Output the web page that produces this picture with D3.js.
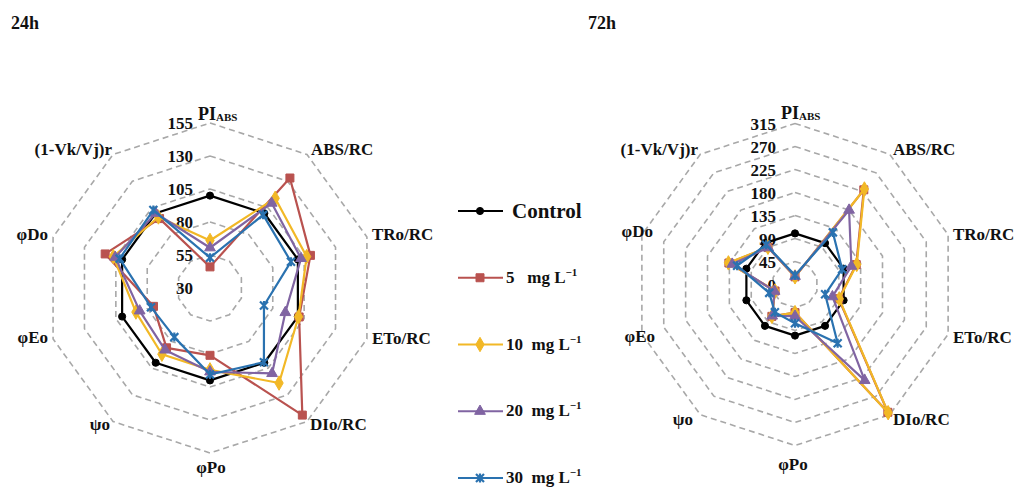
<!DOCTYPE html>
<html>
<head>
<meta charset="utf-8">
<script src="https://cdn.jsdelivr.net/npm/d3@7"></script>
<style>
  html, body { margin: 0; padding: 0; background: #fff; }
  svg { display: block; }
</style>
</head>
<body>
<svg id="chart" width="1016" height="487" font-family="'Liberation Serif', 'DejaVu Serif', serif" font-weight="bold"></svg>
<script>
// ---------- DATA ----------
const axes = ["PI_ABS", "ABS/RC", "TRo/RC", "ETo/RC", "DIo/RC", "φPo", "ψo", "φEo", "φDo", "(1-Vk/Vj)r"];
const seriesNames = ["Control", "5", "10", "20", "30"];
const panelTitles = ["24h", "72h"];
const ticks24 = [30, 55, 80, 105, 130, 155];
const ticks72 = [0, 45, 90, 135, 180, 225, 270, 315];

const control24 = [100, 100, 100, 100, 100, 100, 100, 100, 100, 100];
const mg5_24    = [46, 133, 110, 101, 149, 81, 86, 75, 113.5, 95];
const mg10_24   = [66, 114, 107, 100.5, 119, 92, 92, 89, 107, 96.5];
const mg20_24   = [60.5, 109.5, 102.5, 90, 110, 93.5, 88, 86, 105.5, 100];
const mg30_24   = [53, 98.5, 94.5, 73, 99.5, 95.5, 76, 77, 102, 103];

const control72 = [100, 100, 100, 100, 100, 100, 100, 100, 100, 100];
const mg5_72    = [15, 229, 126, 90, 309, 55, 77, 41, 136, 90];
const mg10_72   = [15, 231, 127, 91, 310, 55, 77, 41, 137, 90];
const mg20_72   = [16, 180, 116, 77, 232, 62, 76, 42, 129, 89];
const mg30_72   = [18, 126, 97, 62, 142, 76, 67, 53, 119, 96];

// ---------- STYLE ----------
const FONT = "'Liberation Serif', 'DejaVu Serif', serif";
const colors = ["#000000", "#B9524F", "#F2B826", "#8064A2", "#2A72B0"];
const markerKinds = ["circle", "square", "diamond", "triangle", "asterisk"];

const svg = d3.select("#chart");

function txt(g) {
  return g.append("text").attr("font-family", FONT).attr("font-weight", "bold").attr("fill", "#111");
}

function markerPath(kind) {
  if (kind === "circle") return d3.symbol(d3.symbolCircle, 40)();
  if (kind === "square") return d3.symbol(d3.symbolSquare, 64)();
  if (kind === "diamond") return d3.symbol(d3.symbolDiamond, 60)();
  if (kind === "triangle") return d3.symbol(d3.symbolTriangle, 50)();
  const s = 4;
  return `M${-s},${-s}L${s},${s}M${-s},${s}L${s},${-s}M0,${-s - 0.5}L0,${s + 0.5}`;
}

function drawMarker(g, kind, color, x, y) {
  const p = g.append("path").attr("d", markerPath(kind))
    .attr("transform", `translate(${x},${y})`);
  if (kind === "asterisk") {
    p.attr("fill", "none").attr("stroke", color).attr("stroke-width", 2.2);
  } else {
    p.attr("fill", color).attr("stroke", color).attr("stroke-width", 1);
  }
}

function drawRadar(cfg) {
  const g = svg.append("g").attr("transform", `translate(${cfg.cx},${cfg.cy})`);
  const r = d3.scaleLinear().domain([cfg.ticks[0], cfg.ticks[cfg.ticks.length - 1]]).range([0, cfg.R]);
  const n = axes.length;
  const ang = d3.scaleLinear().domain([0, n]).range([0, 2 * Math.PI]);
  const pt = (i, v) => [Math.sin(ang(i)) * r(v), -Math.cos(ang(i)) * r(v)];

  // grid rings
  cfg.ticks.slice(1).forEach(t => {
    const pts = d3.range(n).map(i => pt(i, t));
    g.append("path")
      .attr("d", d3.line()(pts) + "Z")
      .attr("fill", "none")
      .attr("stroke", "#A8A8A8")
      .attr("stroke-width", 1.6)
      .attr("stroke-dasharray", "6,4");
  });

  // tick labels
  cfg.ticks.forEach(t => {
    txt(g)
      .attr("x", cfg.tickDx)
      .attr("y", -r(t) + 6)
      .attr("text-anchor", "end")
      .attr("font-size", 17)
      .text(t);
  });

  // series
  cfg.series.forEach((vals, si) => {
    const pts = vals.map((v, i) => pt(i, v));
    g.append("path")
      .attr("d", d3.line()(pts) + "Z")
      .attr("fill", "none")
      .attr("stroke", colors[si])
      .attr("stroke-width", 2.2)
      .attr("stroke-linejoin", "round");
    pts.forEach(p => drawMarker(g, markerKinds[si], colors[si], p[0], p[1]));
  });

  // axis labels
  axes.forEach((name, i) => {
    const L = cfg.labelPos[i];
    const t = txt(g)
      .attr("x", L[0]).attr("y", L[1])
      .attr("text-anchor", L[2])
      .attr("font-size", 17);
    if (name === "PI_ABS") {
      t.append("tspan").attr("font-size", 18).text("PI");
      t.append("tspan").attr("font-size", 11).attr("dy", 1).text("ABS");
    } else {
      t.text(name);
    }
  });

  // title
  txt(svg)
    .attr("x", cfg.titleX).attr("y", 29)
    .attr("font-size", 18)
    .text(cfg.title);
}

drawRadar({
  cx: 210, cy: 288, R: 165, ticks: ticks24, tickDx: -17,
  series: [control24, mg5_24, mg10_24, mg20_24, mg30_24],
  title: panelTitles[0], titleX: 11,
  labelPos: [
    [-12, -168, "start"], [101, -133, "start"], [162, -48, "start"], [162, 56, "start"],
    [100, 142, "start"], [1, 185, "middle"], [-100, 142, "end"], [-162, 55, "end"],
    [-162, -48, "end"], [-98, -133, "end"]
  ]
});

drawRadar({
  cx: 795, cy: 284.5, R: 161, ticks: ticks72, tickDx: -19,
  series: [control72, mg5_72, mg10_72, mg20_72, mg30_72],
  title: panelTitles[1], titleX: 588,
  labelPos: [
    [-14, -166, "start"], [98, -129.5, "start"], [158, -44.5, "start"], [158, 58.5, "start"],
    [98, 140.5, "start"], [-2, 185.5, "middle"], [-102, 140.5, "end"], [-140, 57.5, "end"],
    [-142, -47.5, "end"], [-97, -129.5, "end"]
  ]
});

// legend
const legendY = d3.scaleLinear().domain([0, 4]).range([211, 478]);
const lg = svg.append("g");
seriesNames.forEach((name, i) => {
  const y = legendY(i);
  lg.append("line").attr("x1", 458).attr("x2", 503).attr("y1", y).attr("y2", y)
    .attr("stroke", colors[i]).attr("stroke-width", 2.2);
  drawMarker(lg, markerKinds[i], colors[i], 480, y);
  if (i === 0) {
    txt(lg).attr("x", 512).attr("y", y + 7).attr("font-size", 21).text(name);
  } else {
    const t = txt(lg).attr("x", 506).attr("y", y + 5).attr("font-size", 17)
      .attr("xml:space", "preserve");
    t.append("tspan").text(name + (name.length === 1 ? "   " : "  ") + "mg L");
    t.append("tspan").attr("font-size", 11).attr("dy", -7).text("−1");
  }
});
</script>
</body>
</html>
